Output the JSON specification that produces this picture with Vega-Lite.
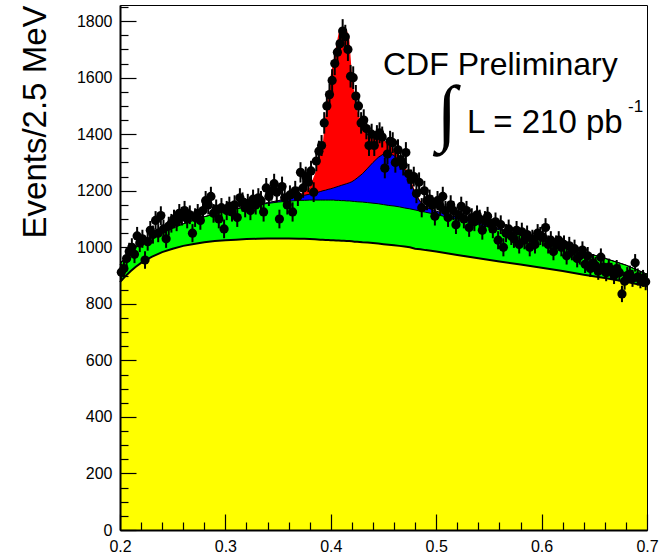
{
  "$schema": "https://vega.github.io/schema/vega-lite/v6.json",
  "width": 527,
  "height": 525,
  "autosize": "none",
  "padding": {"left": 120, "top": 5, "right": 23, "bottom": 23},
  "background": "white",
  "config": {"view": {"stroke": "black", "strokeWidth": 1}, "font": "Liberation Sans"},
  "datasets": {
    "curves": [
      {"x": 0.2, "bg": 877, "gr": 940, "bl": 940, "rd": 940},
      {"x": 0.205, "bg": 897, "gr": 964, "bl": 964, "rd": 964},
      {"x": 0.21, "bg": 915, "gr": 985, "bl": 985, "rd": 985},
      {"x": 0.215, "bg": 931, "gr": 1001, "bl": 1001, "rd": 1001},
      {"x": 0.22, "bg": 945, "gr": 1015, "bl": 1015, "rd": 1015},
      {"x": 0.23, "bg": 966, "gr": 1037, "bl": 1037, "rd": 1037},
      {"x": 0.24, "bg": 983, "gr": 1052, "bl": 1052, "rd": 1052},
      {"x": 0.25, "bg": 995, "gr": 1068, "bl": 1068, "rd": 1068},
      {"x": 0.26, "bg": 1005, "gr": 1083, "bl": 1083, "rd": 1083},
      {"x": 0.27, "bg": 1012, "gr": 1096, "bl": 1096, "rd": 1096},
      {"x": 0.28, "bg": 1018, "gr": 1108, "bl": 1108, "rd": 1108},
      {"x": 0.29, "bg": 1022, "gr": 1118, "bl": 1118, "rd": 1118},
      {"x": 0.3, "bg": 1025, "gr": 1127, "bl": 1127, "rd": 1127},
      {"x": 0.31, "bg": 1027, "gr": 1136, "bl": 1136, "rd": 1136},
      {"x": 0.32, "bg": 1029, "gr": 1143, "bl": 1143, "rd": 1143},
      {"x": 0.33, "bg": 1030, "gr": 1150, "bl": 1151, "rd": 1151},
      {"x": 0.34, "bg": 1031, "gr": 1155, "bl": 1158, "rd": 1158},
      {"x": 0.35, "bg": 1031, "gr": 1160, "bl": 1165, "rd": 1166},
      {"x": 0.36, "bg": 1031, "gr": 1163, "bl": 1173, "rd": 1175},
      {"x": 0.37, "bg": 1030, "gr": 1166, "bl": 1180, "rd": 1187},
      {"x": 0.375, "bg": 1030, "gr": 1166, "bl": 1184, "rd": 1196},
      {"x": 0.38, "bg": 1029, "gr": 1167, "bl": 1188, "rd": 1212},
      {"x": 0.385, "bg": 1028, "gr": 1167, "bl": 1192, "rd": 1260},
      {"x": 0.39, "bg": 1027, "gr": 1167, "bl": 1197, "rd": 1330},
      {"x": 0.3925, "bg": 1027, "gr": 1167, "bl": 1200, "rd": 1370},
      {"x": 0.395, "bg": 1026, "gr": 1167, "bl": 1202, "rd": 1470},
      {"x": 0.3975, "bg": 1026, "gr": 1167, "bl": 1205, "rd": 1540},
      {"x": 0.4, "bg": 1025, "gr": 1167, "bl": 1207, "rd": 1610},
      {"x": 0.4025, "bg": 1025, "gr": 1167, "bl": 1210, "rd": 1660},
      {"x": 0.405, "bg": 1024, "gr": 1166, "bl": 1213, "rd": 1710},
      {"x": 0.4075, "bg": 1024, "gr": 1166, "bl": 1216, "rd": 1760},
      {"x": 0.41, "bg": 1023, "gr": 1165, "bl": 1219, "rd": 1770},
      {"x": 0.4125, "bg": 1023, "gr": 1165, "bl": 1222, "rd": 1772},
      {"x": 0.415, "bg": 1022, "gr": 1164, "bl": 1225, "rd": 1770},
      {"x": 0.4175, "bg": 1022, "gr": 1164, "bl": 1228, "rd": 1740},
      {"x": 0.42, "bg": 1021, "gr": 1163, "bl": 1232, "rd": 1610},
      {"x": 0.4225, "bg": 1020, "gr": 1162, "bl": 1238, "rd": 1540},
      {"x": 0.425, "bg": 1020, "gr": 1161, "bl": 1245, "rd": 1485},
      {"x": 0.43, "bg": 1018, "gr": 1160, "bl": 1260, "rd": 1430},
      {"x": 0.435, "bg": 1017, "gr": 1158, "bl": 1280, "rd": 1392},
      {"x": 0.44, "bg": 1015, "gr": 1156, "bl": 1300, "rd": 1386},
      {"x": 0.445, "bg": 1013, "gr": 1154, "bl": 1318, "rd": 1385},
      {"x": 0.45, "bg": 1011, "gr": 1151, "bl": 1330, "rd": 1380},
      {"x": 0.455, "bg": 1009, "gr": 1148, "bl": 1332, "rd": 1365},
      {"x": 0.46, "bg": 1007, "gr": 1146, "bl": 1325, "rd": 1345},
      {"x": 0.465, "bg": 1005, "gr": 1143, "bl": 1305, "rd": 1322},
      {"x": 0.47, "bg": 1003, "gr": 1139, "bl": 1275, "rd": 1290},
      {"x": 0.475, "bg": 1000, "gr": 1136, "bl": 1235, "rd": 1247},
      {"x": 0.48, "bg": 995, "gr": 1132, "bl": 1190, "rd": 1198},
      {"x": 0.485, "bg": 993, "gr": 1128, "bl": 1160, "rd": 1165},
      {"x": 0.49, "bg": 990, "gr": 1124, "bl": 1142, "rd": 1145},
      {"x": 0.5, "bg": 985, "gr": 1116, "bl": 1128, "rd": 1129},
      {"x": 0.51, "bg": 979, "gr": 1107, "bl": 1116, "rd": 1116},
      {"x": 0.52, "bg": 973, "gr": 1098, "bl": 1106, "rd": 1106},
      {"x": 0.54, "bg": 961, "gr": 1080, "bl": 1086, "rd": 1086},
      {"x": 0.56, "bg": 950, "gr": 1062, "bl": 1066, "rd": 1066},
      {"x": 0.58, "bg": 939, "gr": 1043, "bl": 1046, "rd": 1046},
      {"x": 0.6, "bg": 928, "gr": 1024, "bl": 1026, "rd": 1026},
      {"x": 0.62, "bg": 916, "gr": 1004, "bl": 1005, "rd": 1005},
      {"x": 0.64, "bg": 903, "gr": 983, "bl": 984, "rd": 984},
      {"x": 0.66, "bg": 891, "gr": 961, "bl": 961, "rd": 961},
      {"x": 0.68, "bg": 878, "gr": 937, "bl": 937, "rd": 937},
      {"x": 0.7, "bg": 862, "gr": 905, "bl": 905, "rd": 905}
    ],
    "points": [
      {"x": 0.20125, "n": 912, "e": 30}, {"x": 0.20375, "n": 925, "e": 30}, {"x": 0.20625, "n": 960, "e": 31}, {"x": 0.20875, "n": 985, "e": 31},
      {"x": 0.21125, "n": 1000, "e": 32}, {"x": 0.21375, "n": 975, "e": 31}, {"x": 0.21625, "n": 1040, "e": 32}, {"x": 0.21875, "n": 1015, "e": 32},
      {"x": 0.22125, "n": 1030, "e": 32}, {"x": 0.22375, "n": 955, "e": 31}, {"x": 0.22625, "n": 1020, "e": 32}, {"x": 0.22875, "n": 1060, "e": 33},
      {"x": 0.23125, "n": 1045, "e": 32}, {"x": 0.23375, "n": 1095, "e": 33}, {"x": 0.23625, "n": 1050, "e": 32}, {"x": 0.23875, "n": 1112, "e": 33},
      {"x": 0.24125, "n": 1065, "e": 33}, {"x": 0.24375, "n": 1030, "e": 32}, {"x": 0.24625, "n": 1075, "e": 33}, {"x": 0.24875, "n": 1085, "e": 33},
      {"x": 0.25125, "n": 1100, "e": 33}, {"x": 0.25375, "n": 1090, "e": 33}, {"x": 0.25625, "n": 1120, "e": 33}, {"x": 0.25875, "n": 1110, "e": 33},
      {"x": 0.26125, "n": 1130, "e": 34}, {"x": 0.26375, "n": 1100, "e": 33}, {"x": 0.26625, "n": 1115, "e": 33}, {"x": 0.26875, "n": 1050, "e": 32},
      {"x": 0.27125, "n": 1105, "e": 33}, {"x": 0.27375, "n": 1120, "e": 33}, {"x": 0.27625, "n": 1095, "e": 33}, {"x": 0.27875, "n": 1130, "e": 34},
      {"x": 0.28125, "n": 1165, "e": 34}, {"x": 0.28375, "n": 1150, "e": 34}, {"x": 0.28625, "n": 1180, "e": 34}, {"x": 0.28875, "n": 1120, "e": 33},
      {"x": 0.29125, "n": 1135, "e": 34}, {"x": 0.29375, "n": 1100, "e": 33}, {"x": 0.29625, "n": 1140, "e": 34}, {"x": 0.29875, "n": 1065, "e": 33},
      {"x": 0.30125, "n": 1130, "e": 34}, {"x": 0.30375, "n": 1145, "e": 34}, {"x": 0.30625, "n": 1125, "e": 34}, {"x": 0.30875, "n": 1150, "e": 34},
      {"x": 0.31125, "n": 1105, "e": 33}, {"x": 0.31375, "n": 1175, "e": 34}, {"x": 0.31625, "n": 1160, "e": 34}, {"x": 0.31875, "n": 1140, "e": 34},
      {"x": 0.32125, "n": 1155, "e": 34}, {"x": 0.32375, "n": 1130, "e": 34}, {"x": 0.32625, "n": 1170, "e": 34}, {"x": 0.32875, "n": 1150, "e": 34},
      {"x": 0.33125, "n": 1175, "e": 34}, {"x": 0.33375, "n": 1165, "e": 34}, {"x": 0.33625, "n": 1125, "e": 34}, {"x": 0.33875, "n": 1210, "e": 35},
      {"x": 0.34125, "n": 1180, "e": 34}, {"x": 0.34375, "n": 1200, "e": 35}, {"x": 0.34625, "n": 1225, "e": 35}, {"x": 0.34875, "n": 1195, "e": 35},
      {"x": 0.35125, "n": 1100, "e": 33}, {"x": 0.35375, "n": 1215, "e": 35}, {"x": 0.35625, "n": 1175, "e": 34}, {"x": 0.35875, "n": 1150, "e": 34},
      {"x": 0.36125, "n": 1185, "e": 34}, {"x": 0.36375, "n": 1125, "e": 34}, {"x": 0.36625, "n": 1200, "e": 35}, {"x": 0.36875, "n": 1180, "e": 34},
      {"x": 0.37125, "n": 1265, "e": 36}, {"x": 0.37375, "n": 1210, "e": 35}, {"x": 0.37625, "n": 1250, "e": 35}, {"x": 0.37875, "n": 1230, "e": 35},
      {"x": 0.38125, "n": 1270, "e": 36}, {"x": 0.38375, "n": 1195, "e": 35}, {"x": 0.38625, "n": 1305, "e": 36}, {"x": 0.38875, "n": 1340, "e": 37},
      {"x": 0.39125, "n": 1360, "e": 37}, {"x": 0.39375, "n": 1440, "e": 38}, {"x": 0.39625, "n": 1500, "e": 39}, {"x": 0.39875, "n": 1540, "e": 39},
      {"x": 0.40125, "n": 1590, "e": 40}, {"x": 0.40375, "n": 1650, "e": 41}, {"x": 0.40625, "n": 1690, "e": 41}, {"x": 0.40875, "n": 1720, "e": 41},
      {"x": 0.41125, "n": 1765, "e": 42}, {"x": 0.41375, "n": 1745, "e": 42}, {"x": 0.41625, "n": 1700, "e": 41}, {"x": 0.41875, "n": 1605, "e": 40},
      {"x": 0.42125, "n": 1600, "e": 40}, {"x": 0.42375, "n": 1535, "e": 39}, {"x": 0.42625, "n": 1500, "e": 39}, {"x": 0.42875, "n": 1440, "e": 38},
      {"x": 0.43125, "n": 1450, "e": 38}, {"x": 0.43375, "n": 1420, "e": 38}, {"x": 0.43625, "n": 1360, "e": 37}, {"x": 0.43875, "n": 1400, "e": 37},
      {"x": 0.44125, "n": 1360, "e": 37}, {"x": 0.44375, "n": 1395, "e": 37}, {"x": 0.44625, "n": 1405, "e": 37}, {"x": 0.44875, "n": 1390, "e": 37},
      {"x": 0.45125, "n": 1280, "e": 36}, {"x": 0.45375, "n": 1330, "e": 36}, {"x": 0.45625, "n": 1375, "e": 37}, {"x": 0.45875, "n": 1370, "e": 37},
      {"x": 0.46125, "n": 1300, "e": 36}, {"x": 0.46375, "n": 1345, "e": 37}, {"x": 0.46625, "n": 1310, "e": 36}, {"x": 0.46875, "n": 1290, "e": 36},
      {"x": 0.47125, "n": 1335, "e": 37}, {"x": 0.47375, "n": 1260, "e": 35}, {"x": 0.47625, "n": 1240, "e": 35}, {"x": 0.47875, "n": 1250, "e": 35},
      {"x": 0.48125, "n": 1190, "e": 34}, {"x": 0.48375, "n": 1230, "e": 35}, {"x": 0.48625, "n": 1140, "e": 34}, {"x": 0.48875, "n": 1200, "e": 35},
      {"x": 0.49125, "n": 1165, "e": 34}, {"x": 0.49375, "n": 1170, "e": 34}, {"x": 0.49625, "n": 1150, "e": 34}, {"x": 0.49875, "n": 1110, "e": 33},
      {"x": 0.50125, "n": 1165, "e": 34}, {"x": 0.50375, "n": 1145, "e": 34}, {"x": 0.50625, "n": 1180, "e": 34}, {"x": 0.50875, "n": 1130, "e": 34},
      {"x": 0.51125, "n": 1105, "e": 33}, {"x": 0.51375, "n": 1150, "e": 34}, {"x": 0.51625, "n": 1130, "e": 34}, {"x": 0.51875, "n": 1080, "e": 33},
      {"x": 0.52125, "n": 1115, "e": 33}, {"x": 0.52375, "n": 1145, "e": 34}, {"x": 0.52625, "n": 1100, "e": 33}, {"x": 0.52875, "n": 1130, "e": 34},
      {"x": 0.53125, "n": 1070, "e": 33}, {"x": 0.53375, "n": 1105, "e": 33}, {"x": 0.53625, "n": 1090, "e": 33}, {"x": 0.53875, "n": 1115, "e": 33},
      {"x": 0.54125, "n": 1100, "e": 33}, {"x": 0.54375, "n": 1060, "e": 33}, {"x": 0.54625, "n": 1095, "e": 33}, {"x": 0.54875, "n": 1110, "e": 33},
      {"x": 0.55125, "n": 1085, "e": 33}, {"x": 0.55375, "n": 1065, "e": 33}, {"x": 0.55625, "n": 1090, "e": 33}, {"x": 0.55875, "n": 1025, "e": 32},
      {"x": 0.56125, "n": 1080, "e": 33}, {"x": 0.56375, "n": 1000, "e": 32}, {"x": 0.56625, "n": 1050, "e": 32}, {"x": 0.56875, "n": 1065, "e": 33},
      {"x": 0.57125, "n": 1040, "e": 32}, {"x": 0.57375, "n": 1030, "e": 32}, {"x": 0.57625, "n": 1060, "e": 33}, {"x": 0.57875, "n": 1010, "e": 32},
      {"x": 0.58125, "n": 1055, "e": 32}, {"x": 0.58375, "n": 1025, "e": 32}, {"x": 0.58625, "n": 1045, "e": 32}, {"x": 0.58875, "n": 1000, "e": 32},
      {"x": 0.59125, "n": 1030, "e": 32}, {"x": 0.59375, "n": 1010, "e": 32}, {"x": 0.59625, "n": 1050, "e": 32}, {"x": 0.59875, "n": 1040, "e": 32},
      {"x": 0.60125, "n": 1035, "e": 32}, {"x": 0.60375, "n": 1070, "e": 33}, {"x": 0.60625, "n": 1010, "e": 32}, {"x": 0.60875, "n": 1025, "e": 32},
      {"x": 0.61125, "n": 985, "e": 31}, {"x": 0.61375, "n": 1010, "e": 32}, {"x": 0.61625, "n": 1025, "e": 32}, {"x": 0.61875, "n": 1000, "e": 32},
      {"x": 0.62125, "n": 1010, "e": 32}, {"x": 0.62375, "n": 970, "e": 31}, {"x": 0.62625, "n": 1005, "e": 32}, {"x": 0.62875, "n": 985, "e": 31},
      {"x": 0.63125, "n": 995, "e": 32}, {"x": 0.63375, "n": 960, "e": 31}, {"x": 0.63625, "n": 970, "e": 31}, {"x": 0.63875, "n": 990, "e": 31},
      {"x": 0.64125, "n": 940, "e": 31}, {"x": 0.64375, "n": 970, "e": 31}, {"x": 0.64625, "n": 925, "e": 30}, {"x": 0.64875, "n": 945, "e": 31},
      {"x": 0.65125, "n": 935, "e": 31}, {"x": 0.65375, "n": 915, "e": 30}, {"x": 0.65625, "n": 965, "e": 31}, {"x": 0.65875, "n": 930, "e": 30},
      {"x": 0.66125, "n": 910, "e": 30}, {"x": 0.66375, "n": 930, "e": 30}, {"x": 0.66625, "n": 915, "e": 30}, {"x": 0.66875, "n": 900, "e": 30},
      {"x": 0.67125, "n": 925, "e": 30}, {"x": 0.67375, "n": 910, "e": 30}, {"x": 0.67625, "n": 835, "e": 29}, {"x": 0.67875, "n": 880, "e": 30},
      {"x": 0.68125, "n": 900, "e": 30}, {"x": 0.68375, "n": 905, "e": 30}, {"x": 0.68625, "n": 890, "e": 30}, {"x": 0.68875, "n": 945, "e": 31},
      {"x": 0.69125, "n": 895, "e": 30}, {"x": 0.69375, "n": 885, "e": 30}, {"x": 0.69625, "n": 890, "e": 30}, {"x": 0.69875, "n": 878, "e": 30}
    ]
  },
  "layer": [
    {
      "data": {"name": "curves"},
      "mark": {"type": "area", "color": "#ff0000", "opacity": 1},
      "encoding": {
        "x": {"field": "x", "type": "quantitative", "scale": {"domain": [0.2, 0.7], "nice": false, "zero": false},
          "axis": {"orient": "bottom", "values": [0.22,0.24,0.26,0.28,0.32,0.34,0.36,0.38,0.42,0.44,0.46,0.48,0.52,0.54,0.56,0.58,0.62,0.64,0.66,0.68], "tickSize": -8, "tickColor": "black", "tickWidth": 1.2, "labels": false, "domain": false, "grid": false, "title": null, "zindex": 1}},
        "y": {"field": "rd", "type": "quantitative", "scale": {"domain": [0, 1857], "nice": false},
          "axis": {"orient": "left", "values": [50,100,150,250,300,350,450,500,550,650,700,750,850,900,950,1050,1100,1150,1250,1300,1350,1450,1500,1550,1650,1700,1750,1850], "tickSize": -8, "tickColor": "black", "tickWidth": 1.2, "labels": false, "domain": false, "grid": false, "title": null, "zindex": 1}}
      }
    },
    {
      "data": {"name": "curves"},
      "mark": {"type": "area", "color": "#0000ff", "opacity": 1},
      "encoding": {
        "x": {"field": "x", "type": "quantitative", "axis": null},
        "y": {"field": "bl", "type": "quantitative", "axis": null}
      }
    },
    {
      "data": {"name": "curves"},
      "mark": {"type": "area", "color": "#00ff00", "opacity": 1},
      "encoding": {
        "x": {"field": "x", "type": "quantitative", "axis": null},
        "y": {"field": "gr", "type": "quantitative", "axis": null}
      }
    },
    {
      "data": {"name": "curves"},
      "mark": {"type": "area", "color": "#ffff00", "opacity": 1},
      "encoding": {
        "x": {"field": "x", "type": "quantitative",
          "axis": {"orient": "bottom", "values": [0.2,0.3,0.4,0.5,0.6,0.7], "format": ".1f", "tickSize": -16, "tickColor": "black", "tickWidth": 1.2, "labelPadding": 24, "labelFont": "Liberation Sans", "labelFontSize": 16, "labelColor": "black", "labelFlush": false, "labelOverlap": false, "domainColor": "black", "domainWidth": 2, "grid": false, "title": null, "zindex": 1}},
        "y": {"field": "bg", "type": "quantitative",
          "axis": {"orient": "left", "values": [0,200,400,600,800,1000,1200,1400,1600,1800], "format": "d", "tickSize": -16, "tickColor": "black", "tickWidth": 1.2, "labelPadding": 24, "labelFont": "Liberation Sans", "labelFontSize": 16, "labelColor": "black", "labelOverlap": false, "domainColor": "black", "domainWidth": 2, "grid": false,
            "title": "Events/2.5 MeV", "titleFont": "Liberation Sans", "titleFontSize": 33, "titleFontWeight": "normal", "titleColor": "black", "titleAngle": 270, "titleAlign": "right", "titleBaseline": "alphabetic", "titleX": -75, "titleY": 0, "zindex": 1}}
      }
    },
    {
      "data": {"name": "curves"},
      "mark": {"type": "line", "color": "black", "strokeWidth": 1},
      "encoding": {
        "x": {"field": "x", "type": "quantitative", "axis": null},
        "y": {"field": "bl", "type": "quantitative", "axis": null}
      }
    },
    {
      "data": {"name": "curves"},
      "mark": {"type": "line", "color": "black", "strokeWidth": 1},
      "encoding": {
        "x": {"field": "x", "type": "quantitative", "axis": null},
        "y": {"field": "gr", "type": "quantitative", "axis": null}
      }
    },
    {
      "data": {"name": "curves"},
      "mark": {"type": "line", "color": "black", "strokeWidth": 2},
      "encoding": {
        "x": {"field": "x", "type": "quantitative", "axis": null},
        "y": {"field": "bg", "type": "quantitative", "axis": null}
      }
    },
    {
      "data": {"name": "points"},
      "mark": {"type": "errorbar", "color": "black", "thickness": 2},
      "encoding": {
        "x": {"field": "x", "type": "quantitative", "axis": null},
        "y": {"field": "n", "type": "quantitative", "axis": null},
        "yError": {"field": "e"}
      }
    },
    {
      "data": {"name": "points"},
      "mark": {"type": "circle", "size": 85, "color": "black", "opacity": 1},
      "encoding": {
        "x": {"field": "x", "type": "quantitative", "axis": null},
        "y": {"field": "n", "type": "quantitative", "axis": null}
      }
    },
    {
      "data": {"values": [
        {"x": 0.4495, "y": 1609, "t": "CDF Preliminary", "s": 32},
        {"x": 0.5292, "y": 1404, "t": "L = 210 pb", "s": 33},
        {"x": 0.682, "y": 1479, "t": "-1", "s": 17}
      ]},
      "mark": {"type": "text", "font": "Liberation Sans", "color": "black", "align": "left", "baseline": "alphabetic"},
      "encoding": {
        "x": {"field": "x", "type": "quantitative", "axis": null},
        "y": {"field": "y", "type": "quantitative", "axis": null},
        "text": {"field": "t"},
        "size": {"field": "s", "type": "quantitative", "scale": null}
      }
    },
    {
      "data": {"values": [{"x": 0.5102, "y": 1468, "t": "∫"}]},
      "mark": {"type": "text", "font": "DejaVu Sans", "fontWeight": 200, "fontSize": 74, "color": "black", "align": "center", "baseline": "middle"},
      "encoding": {
        "x": {"field": "x", "type": "quantitative", "axis": null},
        "y": {"field": "y", "type": "quantitative", "axis": null},
        "text": {"field": "t"}
      }
    }
  ],
  "resolve": {"axis": {"x": "independent", "y": "independent"}}
}
